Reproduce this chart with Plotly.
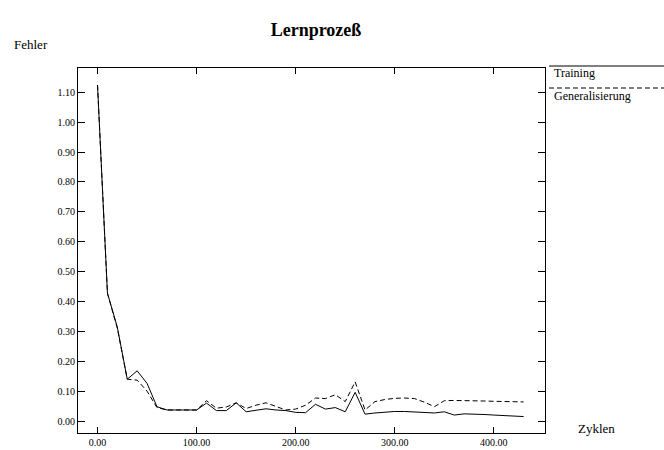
import plotly.graph_objects as go

# Data
zyklen = [0, 10, 20, 30, 40, 50, 60, 70, 80, 90, 100, 110, 120, 130, 140, 150, 160, 170, 180, 190,
          200, 210, 220, 230, 240, 250, 260, 270, 280, 290, 300, 310, 320, 330, 340, 350, 360, 370,
          380, 390, 400, 410, 420, 430]
training = [1.124, 0.428, 0.314, 0.140, 0.168, 0.126, 0.048, 0.037, 0.037, 0.038, 0.037, 0.060, 0.035,
            0.035, 0.061, 0.031, 0.037, 0.041, 0.037, 0.035, 0.029, 0.028, 0.056, 0.040, 0.045, 0.031,
            0.096, 0.023, 0.027, 0.030, 0.032, 0.032, 0.030, 0.027, 0.027, 0.031, 0.020, 0.024, 0.024,
            0.022, 0.020, 0.018, 0.016, 0.015]
generalisierung = [1.124, 0.428, 0.310, 0.140, 0.137, 0.100, 0.045, 0.037, 0.037, 0.038, 0.037, 0.068,
                   0.043, 0.047, 0.061, 0.042, 0.053, 0.061, 0.048, 0.037, 0.040, 0.053, 0.077, 0.075,
                   0.088, 0.065, 0.131, 0.037, 0.065, 0.072, 0.076, 0.077, 0.075, 0.063, 0.048, 0.068,
                   0.069, 0.069, 0.068, 0.067, 0.066, 0.065, 0.065, 0.064]
x_ticks = [0, 100, 200, 300, 400]
y_ticks = [0.00, 0.10, 0.20, 0.30, 0.40, 0.50, 0.60, 0.70, 0.80, 0.90, 1.00, 1.10]
legend_names = ["Training", "Generalisierung"]

W, H = 664, 450
L, R, T, B = 78, 545, 68, 433
serif = "Liberation Serif, Times New Roman, serif"

fig = go.Figure()
fig.add_trace(go.Scatter(x=zyklen, y=training, mode="lines", name=legend_names[0],
                         line=dict(color="black", width=1)))
fig.add_trace(go.Scatter(x=zyklen, y=generalisierung, mode="lines", name=legend_names[1],
                         line=dict(color="black", width=1, dash="5px,3px")))

axis_common = dict(showline=True, linecolor="black", linewidth=1, mirror="allticks",
                   ticks="inside", tickcolor="black", tickwidth=1, showgrid=False, zeroline=False,
                   automargin=False,
                   tickfont=dict(family=serif, size=10, color="black"), tickformat=".2f")

fig.update_layout(
    width=W, height=H,
    margin=dict(l=L, r=W - R, t=T, b=H - B, pad=0, autoexpand=False),
    paper_bgcolor="white", plot_bgcolor="white",
    showlegend=False,
    title=dict(text="<b>Lernprozeß</b>", x=316 / W, xref="container", xanchor="center",
               y=1 - 30 / H, yref="container", yanchor="middle",
               font=dict(family=serif, size=18, color="black")),
    xaxis=dict(range=[-19.7, 451.6], tickvals=x_ticks, ticklen=6, **axis_common),
    yaxis=dict(range=[-0.040, 1.181], tickvals=y_ticks, ticklen=7, **axis_common),
)

# axis titles
fig.add_annotation(text="Fehler", xref="paper", yref="paper", x=(12 - L) / (R - L), y=(B - 45) / (B - T),
                   xanchor="left", yanchor="middle", showarrow=False,
                   font=dict(family=serif, size=13, color="black"))
fig.add_annotation(text="Zyklen", xref="paper", yref="paper", x=(576 - L) / (R - L), y=(B - 428) / (B - T),
                   xanchor="left", yanchor="middle", showarrow=False,
                   font=dict(family=serif, size=13, color="black"))

# legend drawn as lines above labels
leg = [(66, 73, "solid"), (88, 96, "5px,3px")]
for (ly, ty, dash), name in zip(leg, legend_names):
    fig.add_shape(type="line", xref="paper", yref="paper",
                  x0=(549 - L) / (R - L), x1=(664 - L) / (R - L),
                  y0=(B - ly) / (B - T), y1=(B - ly) / (B - T),
                  line=dict(color="black", width=1, dash=dash))
    fig.add_annotation(text=name, xref="paper", yref="paper", x=(552 - L) / (R - L), y=(B - ty) / (B - T),
                       xanchor="left", yanchor="middle", showarrow=False,
                       font=dict(family=serif, size=12, color="black"))

fig.write_html("out.html")
